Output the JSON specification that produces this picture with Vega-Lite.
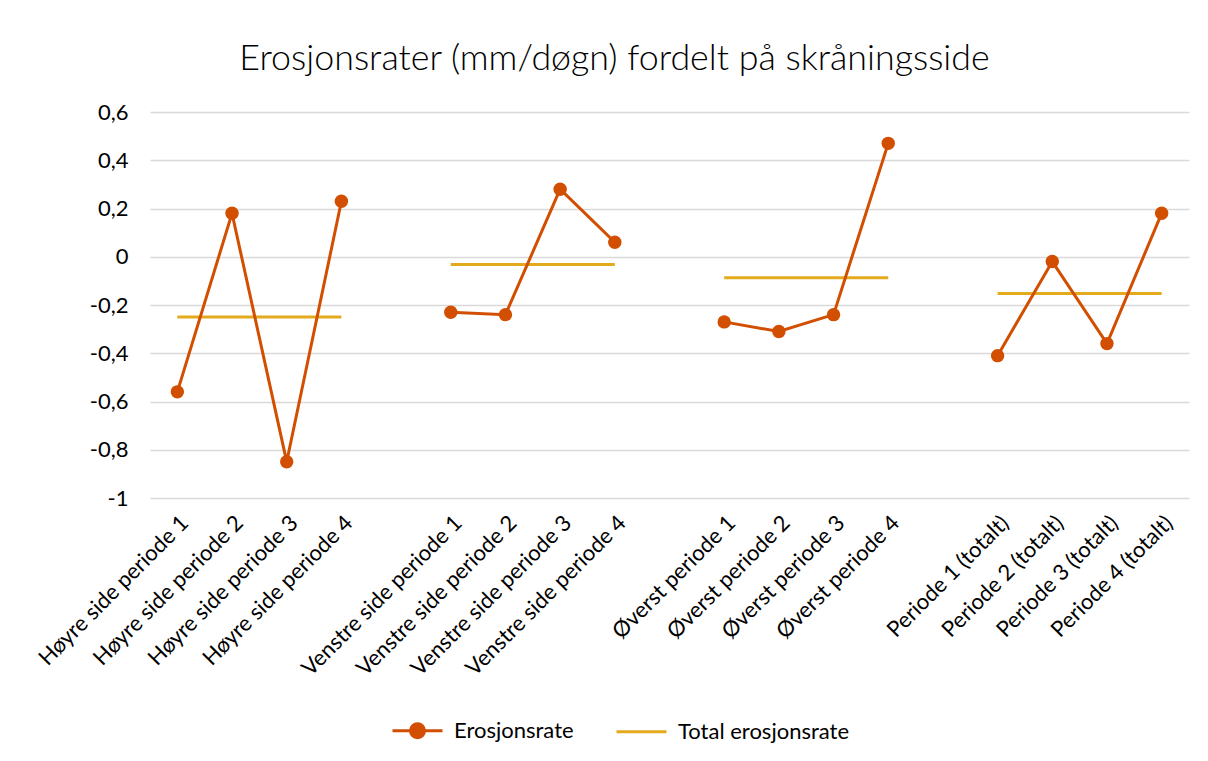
{
  "$schema": "https://vega.github.io/schema/vega-lite/v6.json",
  "width": 1039,
  "height": 386,
  "padding": {"left": 34, "top": 41, "right": 10, "bottom": 10},
  "background": "white",
  "title": {
    "text": "Erosjonsrater (mm/døgn) fordelt på skråningsside",
    "font": "Lato",
    "fontWeight": 300,
    "fontSize": 35.8,
    "color": "#000000",
    "anchor": "middle",
    "frame": "group",
    "dx": -55,
    "offset": 23
  },
  "config": {
    "view": {"stroke": null},
    "font": "Lato",
    "axis": {"labelFont": "Lato", "labelColor": "#000000", "labelFontSize": 22}
  },
  "datasets": {
    "pts": [
      {"cat": "Høyre side periode 1", "grp": "H", "v": -0.56, "series": "Erosjonsrate"},
      {"cat": "Høyre side periode 2", "grp": "H", "v": 0.18, "series": "Erosjonsrate"},
      {"cat": "Høyre side periode 3", "grp": "H", "v": -0.85, "series": "Erosjonsrate"},
      {"cat": "Høyre side periode 4", "grp": "H", "v": 0.23, "series": "Erosjonsrate"},
      {"cat": "Venstre side periode 1", "grp": "V", "v": -0.23, "series": "Erosjonsrate"},
      {"cat": "Venstre side periode 2", "grp": "V", "v": -0.24, "series": "Erosjonsrate"},
      {"cat": "Venstre side periode 3", "grp": "V", "v": 0.28, "series": "Erosjonsrate"},
      {"cat": "Venstre side periode 4", "grp": "V", "v": 0.06, "series": "Erosjonsrate"},
      {"cat": "Øverst periode 1", "grp": "O", "v": -0.27, "series": "Erosjonsrate"},
      {"cat": "Øverst periode 2", "grp": "O", "v": -0.31, "series": "Erosjonsrate"},
      {"cat": "Øverst periode 3", "grp": "O", "v": -0.24, "series": "Erosjonsrate"},
      {"cat": "Øverst periode 4", "grp": "O", "v": 0.47, "series": "Erosjonsrate"},
      {"cat": "Periode 1 (totalt)", "grp": "P", "v": -0.41, "series": "Erosjonsrate"},
      {"cat": "Periode 2 (totalt)", "grp": "P", "v": -0.02, "series": "Erosjonsrate"},
      {"cat": "Periode 3 (totalt)", "grp": "P", "v": -0.36, "series": "Erosjonsrate"},
      {"cat": "Periode 4 (totalt)", "grp": "P", "v": 0.18, "series": "Erosjonsrate"}
    ],
    "tot": [
      {"cat": "Høyre side periode 1", "grp": "H", "v": -0.25, "series": "Total erosjonsrate"},
      {"cat": "Høyre side periode 4", "grp": "H", "v": -0.25, "series": "Total erosjonsrate"},
      {"cat": "Venstre side periode 1", "grp": "V", "v": -0.0325, "series": "Total erosjonsrate"},
      {"cat": "Venstre side periode 4", "grp": "V", "v": -0.0325, "series": "Total erosjonsrate"},
      {"cat": "Øverst periode 1", "grp": "O", "v": -0.0875, "series": "Total erosjonsrate"},
      {"cat": "Øverst periode 4", "grp": "O", "v": -0.0875, "series": "Total erosjonsrate"},
      {"cat": "Periode 1 (totalt)", "grp": "P", "v": -0.1525, "series": "Total erosjonsrate"},
      {"cat": "Periode 4 (totalt)", "grp": "P", "v": -0.1525, "series": "Total erosjonsrate"}
    ]
  },
  "encoding": {
    "x": {
      "field": "cat",
      "type": "ordinal",
      "sort": null,
      "scale": {
        "type": "point",
        "padding": 0.5,
        "domain": [
          "Høyre side periode 1", "Høyre side periode 2", "Høyre side periode 3", "Høyre side periode 4", " ",
          "Venstre side periode 1", "Venstre side periode 2", "Venstre side periode 3", "Venstre side periode 4", "  ",
          "Øverst periode 1", "Øverst periode 2", "Øverst periode 3", "Øverst periode 4", "   ",
          "Periode 1 (totalt)", "Periode 2 (totalt)", "Periode 3 (totalt)", "Periode 4 (totalt)"
        ]
      },
      "axis": {
        "title": null,
        "labelAngle": -45,
        "ticks": false,
        "domain": false,
        "grid": false,
        "labelPadding": 14,
        "labelLimit": 500
      }
    },
    "y": {
      "field": "v",
      "type": "quantitative",
      "scale": {"domain": [-1, 0.6], "nice": false, "zero": false},
      "axis": {
        "title": null,
        "values": [-1, -0.8, -0.6, -0.4, -0.2, 0, 0.2, 0.4, 0.6],
        "labelExpr": "replace(replace(format(datum.value, '~g'), '.', ','), '\u2212', '-')",
        "ticks": false,
        "domain": false,
        "grid": true,
        "gridColor": "#D9D9D9",
        "gridWidth": 1.3,
        "labelPadding": 22
      }
    },
    "color": {
      "field": "series",
      "type": "nominal",
      "scale": {"domain": ["Erosjonsrate", "Total erosjonsrate"], "range": ["#D24E01", "#E3AA1E"]},
      "legend": {
        "title": null,
        "orient": "none",
        "direction": "horizontal",
        "legendX": 241,
        "legendY": 592,
        "labelFontSize": 22,
        "labelColor": "#000000",
        "labelFont": "Lato",
        "labelLimit": 400,
        "symbolSize": 2500,
        "symbolStrokeWidth": 3,
        "labelOffset": 10,
        "columnPadding": 36,
        "encode": {
          "symbols": {
            "update": {
              "shape": {"signal": "datum.value === 'Erosjonsrate' ? 'M-1,0L1,0M-0.28,0A0.28,0.28,0,1,0,0.28,0A0.28,0.28,0,1,0,-0.28,0Z' : 'M-1,0L1,0'"},
              "fill": {"scale": "color", "field": "value"},
              "stroke": {"scale": "color", "field": "value"},
              "strokeWidth": {"value": 3},
              "opacity": {"value": 1}
            }
          }
        }
      }
    }
  },
  "layer": [
    {
      "data": {"name": "tot"},
      "mark": {"type": "line", "strokeWidth": 3},
      "encoding": {"detail": {"field": "grp"}}
    },
    {
      "data": {"name": "pts"},
      "mark": {"type": "line", "strokeWidth": 3},
      "encoding": {"detail": {"field": "grp"}}
    },
    {
      "data": {"name": "pts"},
      "mark": {"type": "point", "filled": true, "size": 180, "opacity": 1, "shape": "circle"}
    }
  ]
}
